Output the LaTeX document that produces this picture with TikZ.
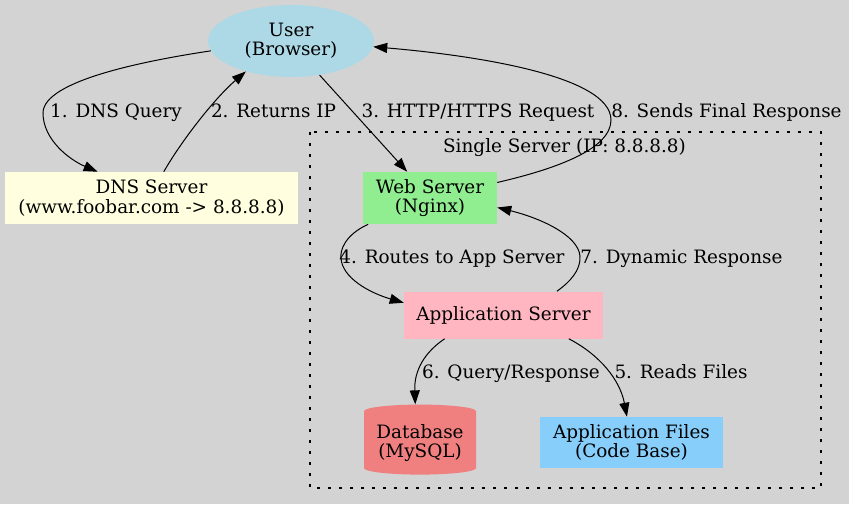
\documentclass[tikz,border=0pt]{standalone}
\usepackage{fontspec}
\setmainfont{DejaVu Serif}
\usepackage{tikz}
\usetikzlibrary{arrows.meta,shapes}
\usetikzlibrary{calc}

\definecolor{bgray}{HTML}{D3D3D3}
\definecolor{lblue}{HTML}{ADD8E6}
\definecolor{lyellow}{HTML}{FFFFE0}
\definecolor{lgreen}{HTML}{90EE90}
\definecolor{lpink}{HTML}{FFB6C1}
\definecolor{lcoral}{HTML}{F08080}
\definecolor{lsky}{HTML}{87CEFA}

\begin{document}
\begin{tikzpicture}[x=0.75pt,y=-0.75pt,
	>={Triangle[length=10.5pt,width=7.5pt]},
	every node/.style={font=\fontsize{13.8}{14.5}\selectfont, align=center},
	box/.style={rectangle, inner sep=0pt},
	lbl/.style={anchor=base, inner sep=0pt},
	link/.style={line width=0.75pt,->},
	cluster/.style={line width=1pt, dash pattern=on 1.9pt off 6.35pt}]

	\fill[bgray] (0,0) rectangle (849,504); %background
	\useasboundingbox (0,0) rectangle (849,504);

	\draw[cluster] (310,132) rectangle (821,488); %single server
	\node[lbl] (srvlbl) at (564.5,152) {Single Server (IP: 8.8.8.8)};

	\node[ellipse, fill=lblue, minimum width=124.5pt, minimum height=54pt, inner sep=0pt] (user) at (291,41) {User\\(Browser)};
	\node[box, fill=lyellow, minimum width=219.75pt, minimum height=39pt] (dns) at (151.5,198) {DNS Server\\(www.foobar.com -> 8.8.8.8)};
	\node[box, fill=lgreen, minimum width=100.5pt, minimum height=39pt] (web) at (430,198) {Web Server\\(Nginx)};
	\node[box, fill=lpink, minimum width=149.25pt, minimum height=35.25pt] (app) at (503.5,315) {Application Server};
	\node[cylinder, shape border rotate=90, aspect=0.15, fill=lcoral, minimum width=84pt, minimum height=52.5pt, inner sep=0pt] (db) at (420,443) {Database\\(MySQL)};
	\node[box, fill=lsky, minimum width=137.25pt, minimum height=38.25pt] (files) at (631.5,442.5) {Application Files\\(Code Base)};

	\draw[link] (user.187) .. controls (150,60) and (43,80) .. (43,113) .. controls (43,140) and (70,160) .. (dns.154); %query
	\draw[link] (dns.65) .. controls (182,140) and (215,98) .. (user.214); %returns ip
	\draw[link] (user.310) -- (web.131); %request
	\draw[link] (web.13) .. controls (560,168) and (611,148) .. (611,120) .. controls (611,75) and (470,55) .. (user.356); %final response
	\draw[link] (web.203) .. controls (345,235) and (340,250) .. (341,258) .. controls (342,278) and (370,293) .. (app.173); %routes
	\draw[link] (app.24.5) .. controls (570,282) and (581,270) .. (580,256) .. controls (578,235) and (540,218) .. (web.352); %dynamic
	\draw[link] (app.202) .. controls (425,352) and (414,370) .. (db.97); %mysql
	\draw[link] (app.340) .. controls (600,355) and (620,380) .. (files.100); %files

	\node[lbl] (q1) at (116,117) {1. DNS Query};
	\node[lbl] (q2) at (273.5,117) {2. Returns IP};
	\node[lbl] (q3) at (478,117) {3. HTTP/HTTPS Request};
	\node[lbl] (q8) at (726.5,117) {8. Sends Final Response};
	\node[lbl] (q4) at (452,263) {4. Routes to App Server};
	\node[lbl] (q7) at (681.5,263) {7. Dynamic Response};
	\node[lbl] (q6) at (511,378) {6. Query/Response};
	\node[lbl] (q5) at (681,378) {5. Reads Files};

\end{tikzpicture}
\end{document}
